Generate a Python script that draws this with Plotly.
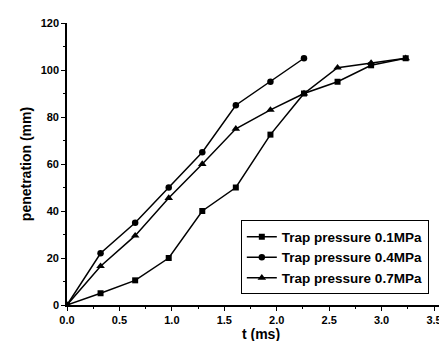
import plotly.graph_objects as go

t_ms = [0, 0.32, 0.65, 0.97, 1.29, 1.61, 1.94, 2.26, 2.58, 2.90, 3.23]
pen_01 = [0, 5, 10.5, 20, 40, 50, 72.5, 90, 95, 102, 105]
pen_04 = [0, 22, 35, 50, 65, 85, 95, 105]
pen_07 = [0, 16.5, 29.5, 45.5, 60, 75, 83, 90, 101, 103, 105]
names = ["Trap pressure 0.1MPa", "Trap pressure 0.4MPa", "Trap pressure 0.7MPa"]
x_ticks = [0.0, 0.5, 1.0, 1.5, 2.0, 2.5, 3.0, 3.5]
y_ticks = [0, 20, 40, 60, 80, 100, 120]

FONT = "Liberation Sans, Arial, sans-serif"

fig = go.Figure()
for ys, nm, sym, sz in [(pen_01, names[0], "square", 6), (pen_04, names[1], "circle", 6.5), (pen_07, names[2], "triangle-up", 7.5)]:
    fig.add_trace(go.Scatter(
        x=t_ms[:len(ys)], y=ys, name=nm, mode="lines+markers",
        line=dict(color="black", width=1.5),
        marker=dict(symbol=sym, size=sz, color="black"),
    ))

axis_common = dict(
    showline=True, linecolor="black", linewidth=1.6, mirror=False,
    ticks="outside", ticklen=4, tickwidth=1.3, tickcolor="black",
    showgrid=False, zeroline=False,
    tickfont=dict(family=FONT, size=11, color="black", weight="bold"),
)

fig.update_xaxes(
    range=[0, 3.7], tickvals=x_ticks, ticktext=[f"{v:.1f}" for v in x_ticks],
    title=dict(text="t (ms)", font=dict(family=FONT, size=14, color="black", weight="bold"), standoff=4),
    minor=dict(ticks="outside", ticklen=2, dtick=0.25, tickcolor="black"),
    **axis_common,
)
fig.update_yaxes(
    range=[0, 120], tickvals=y_ticks,
    title=dict(text="penetration (mm)", font=dict(family=FONT, size=14, color="black", weight="bold"), standoff=6),
    minor=dict(ticks="outside", ticklen=2, dtick=10, tickcolor="black"),
    **axis_common,
)

fig.update_layout(
    width=447, height=341,
    margin=dict(l=59, r=0, t=15, b=44),
    paper_bgcolor="white", plot_bgcolor="white",
    showlegend=True,
    legend=dict(
        x=0.448, y=0.30, xanchor="left", yanchor="top",
        bgcolor="white", bordercolor="black", borderwidth=1,
        font=dict(family=FONT, size=13.5, color="black", weight="bold"),
        tracegroupgap=0,
    ),
)

fig.write_html("out.html")
